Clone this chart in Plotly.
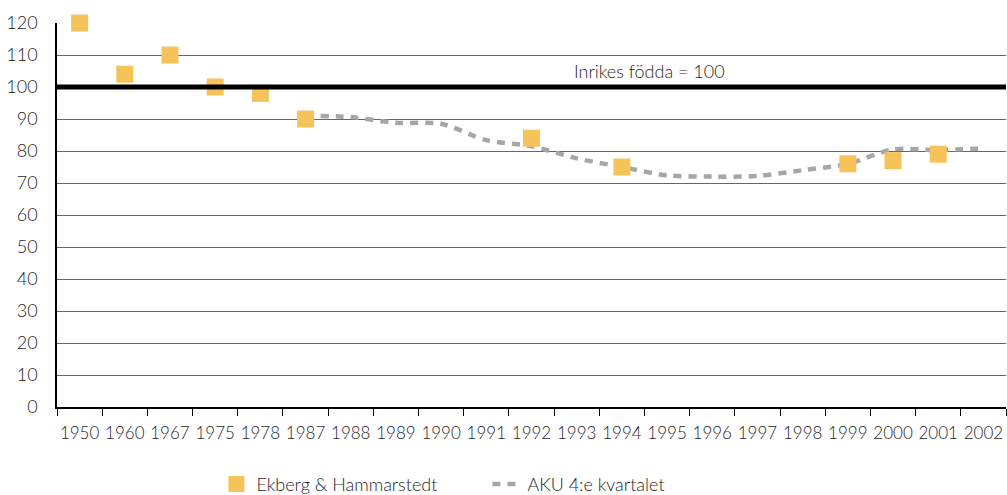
import plotly.graph_objects as go

categories = ["1950", "1960", "1967", "1975", "1978", "1987", "1988", "1989", "1990", "1991",
              "1992", "1993", "1994", "1995", "1996", "1997", "1998", "1999", "2000", "2001", "2002"]

ekberg_years = ["1950", "1960", "1967", "1975", "1978", "1987", "1992", "1994", "1999", "2000", "2001"]
ekberg_values = [120, 104, 110, 100, 98, 90, 84, 75, 76, 77, 79]

aku_years = ["1987", "1988", "1989", "1990", "1991", "1992", "1993", "1994", "1995", "1996",
             "1997", "1998", "1999", "2000", "2001", "2002"]
aku_values = [91, 90.6, 88.8, 88.5, 83.4, 81.5, 77.7, 75, 72.4, 72, 72.2, 74, 76, 80.5, 80.3, 80.8]

y_ticks = [0, 10, 20, 30, 40, 50, 60, 70, 80, 90, 100, 110, 120]
reference_level = 100
reference_label = "Inrikes födda = 100"

FONT = "Lato, 'Open Sans', sans-serif"
TXT = "#1E1E1E"

fig = go.Figure()

fig.add_trace(go.Scatter(
    x=aku_years, y=aku_values, mode="lines", name="AKU 4:e kvartalet",
    line=dict(color="#A6A6A6", width=4.5, dash="8px,7px", shape="spline", smoothing=0.8),
    legendrank=2, cliponaxis=False,
))
fig.add_trace(go.Scatter(
    x=ekberg_years, y=ekberg_values, mode="markers", name="Ekberg & Hammarstedt",
    marker=dict(symbol="square", size=17, color="#F6C35A", line=dict(width=0)),
    legendrank=1, cliponaxis=False,
))

fig.add_shape(type="line", xref="paper", x0=0, x1=1, yref="y", y0=reference_level, y1=reference_level,
              line=dict(color="black", width=5), layer="above")

fig.add_annotation(x=0.624, xref="paper", y=reference_level, yref="y", text=reference_label,
                   showarrow=False, xanchor="center", yanchor="bottom", yshift=3,
                   font=dict(family=FONT, size=18, color=TXT, weight=300))

fig.update_layout(
    width=1007, height=495,
    margin=dict(l=57, r=1, t=23, b=88, autoexpand=False),
    paper_bgcolor="white", plot_bgcolor="white",
    font=dict(family=FONT, size=16, color=TXT, weight=300),
    showlegend=True,
    legend=dict(orientation="h", x=0.168, xanchor="left", y=-0.153, yanchor="top",
                font=dict(family=FONT, size=18, color=TXT, weight=300),
                tracegroupgap=0, entrywidthmode="pixels", entrywidth=226),
    xaxis=dict(
        type="category", categoryorder="array", categoryarray=categories,
        range=[-0.5, len(categories) - 0.5], automargin=False,
        showgrid=False, showline=True, linecolor="black", linewidth=1.5,
        ticks="outside", tickson="boundaries", ticklen=7, tickcolor="black", tickwidth=1,
        tickfont=dict(family=FONT, size=17, color=TXT, weight=300), tickangle=0,
        ticklabelstandoff=10,
    ),
    yaxis=dict(
        range=[0, 120], tickvals=y_ticks, showgrid=True, gridcolor="#666666", gridwidth=1.2,
        showline=True, linecolor="black", linewidth=1.5, zeroline=False, automargin=False,
        ticks="", ticklabelstandoff=14,
        tickfont=dict(family=FONT, size=18, color=TXT, weight=300),
    ),
)

fig.write_html("out.html", config={"displayModeBar": False},
               post_script="document.body.style.margin='0';")
